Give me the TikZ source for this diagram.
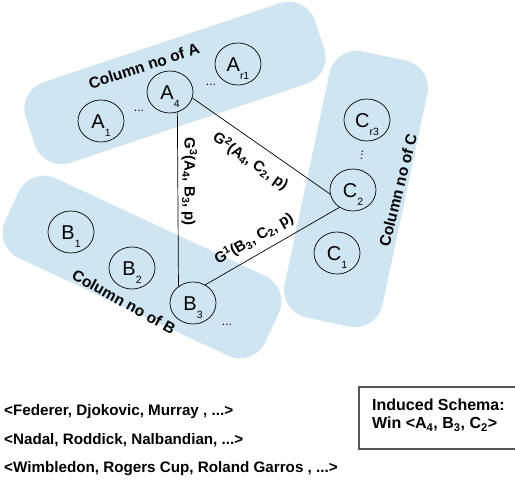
\documentclass[tikz,border=0pt]{standalone}
\usepackage{fontspec}
\setmainfont{Liberation Sans}
\usetikzlibrary{shapes.geometric}
\definecolor{bandblue}{RGB}{207,229,242}
\definecolor{boxgray}{RGB}{85,85,85}
\newcommand{\lowsub}[1]{\raisebox{-8.5pt}{\fontsize{10.5}{12}\selectfont #1}}

\begin{document}
\begin{tikzpicture}[x=1pt,y=-1pt]
   \tikzstyle{band}=[fill=bandblue, rounded corners=28pt, inner sep=0pt]
   \tikzstyle{attr}=[draw, ellipse, line width=0.7pt, minimum width=46pt, minimum height=42pt, inner sep=0pt, text height=15pt, text depth=0pt, font=\fontsize{20}{24}\selectfont]
   \tikzstyle{bandlabel}=[font=\bfseries\fontsize{15.5}{18}\selectfont]
   \tikzstyle{elabel}=[font=\bfseries\fontsize{15}{18}\selectfont]
   \tikzstyle{gap}=[inner sep=0pt, font=\fontsize{12}{14}\selectfont]
   \tikzstyle{listtext}=[anchor=base west, inner sep=0pt, font=\bfseries\fontsize{15.2}{18}\selectfont]
   \tikzstyle{schematext}=[anchor=north west, align=left, inner sep=0pt, font=\bfseries\fontsize{16}{18}\selectfont]
   \tikzstyle{schemaframe}=[draw=boxgray, line width=1.2pt]

\useasboundingbox (0,0) rectangle (515,484);

\node[band, rotate=18.5, minimum width=305pt, minimum height=85pt] (bandA) at (175,83) {};
\node[band, rotate=-25, minimum width=287pt, minimum height=88pt] (bandB) at (142,267) {};
\node[band, rotate=78, minimum width=272pt, minimum height=100pt] (bandC) at (356,189) {};

\node[bandlabel, rotate=18] (colA) at (144,66) {Column no of A};
\node[bandlabel, rotate=-29] (colB) at (124,302) {Column no of B};
\node[bandlabel, rotate=76] (colC) at (398,190) {Column no of C};

\node[attr] (A1) at (101,121) {A\lowsub{1}};
\node[attr] (A4) at (170,92) {A\lowsub{4}};
\node[attr] (Ar1) at (238,64) {A\lowsub{r1}};
\node[attr] (B1) at (71,232) {B\lowsub{1}};
\node[attr] (B2) at (132,268) {B\lowsub{2}};
\node[attr] (B3) at (193,303) {B\lowsub{3}};
\node[attr] (C1) at (337,253) {C\lowsub{1}};
\node[attr] (C2) at (353,190) {C\lowsub{2}};
\node[attr] (Cr3) at (367,120) {C\lowsub{r3}};

\node[gap] (dotsA1) at (139,111) {...};
\node[gap] (dotsA2) at (211,85) {...};
\node[gap] (dotsB) at (227,325) {...};
\node[gap, rotate=80] (dotsC) at (362,155) {...};

\draw[line width=0.7pt] (A4.290) -- node[elabel, pos=0.4, rotate=-90, anchor=south] {G\textsuperscript{3}(A\textsubscript{4}, B\textsubscript{3}, p)} (B3.131);
\draw[line width=0.7pt] (A4.-15) -- node[elabel, sloped, below=7pt] {G\textsuperscript{2}(A\textsubscript{4}, C\textsubscript{2}, p)} (C2.190);
\draw[line width=0.7pt] (B3.56) -- node[elabel, sloped, above=4pt, pos=0.42] {G\textsuperscript{1}(B\textsubscript{3}, C\textsubscript{2}, p)} (C2.232);

\node[listtext] (players1) at (4,415) {<Federer, Djokovic, Murray , ...>};
\node[listtext] (players2) at (4,444) {<Nadal, Roddick, Nalbandian, ...>};
\node[listtext] (events) at (4,472) {<Wimbledon, Rogers Cup, Roland Garros , ...>};

\draw[schemaframe] (515,387) -- (359,387) -- (359,449) -- (515,449);
\node[schematext] (schema) at (372,399) {Induced Schema:\\Win <A\textsubscript{4}, B\textsubscript{3}, C\textsubscript{2}>};

\end{tikzpicture}
\end{document}
